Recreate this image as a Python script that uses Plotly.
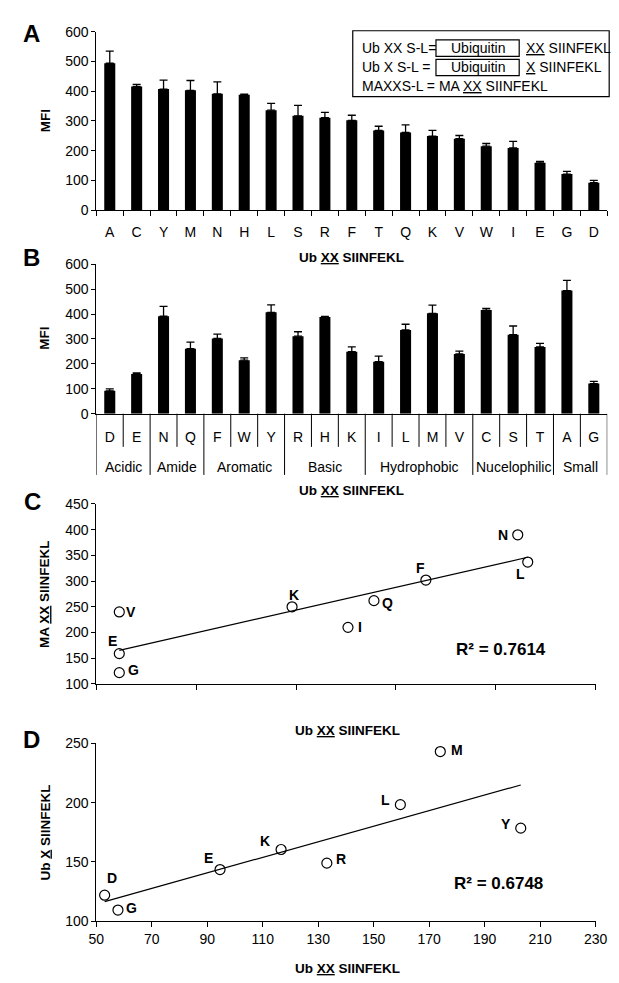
import numpy as np
import plotly.graph_objects as go

# ---------------- data ----------------
# Panel A (sorted by MFI)
a_letters = ["A", "C", "Y", "M", "N", "H", "L", "S", "R", "F", "T", "Q", "K", "V", "W", "I", "E", "G", "D"]
a_mfi = [494, 416, 407, 403, 391, 388, 336, 317, 311, 302, 268, 261, 249, 240, 215, 209, 159, 121, 92]
a_err = [41, 7, 30, 33, 40, 2, 23, 35, 18, 17, 14, 26, 19, 11, 9, 22, 5, 9, 8]

# Panel B (grouped)
groups = ["Acidic", "Amide", "Aromatic", "Basic", "Hydrophobic", "Nucelophilic", "Small"]
group_members = [["D", "E"], ["N", "Q"], ["F", "W", "Y"], ["R", "H", "K"],
                 ["I", "L", "M", "V"], ["C", "S", "T"], ["A", "G"]]

# Panel C: Ub XX (x, hidden scale) vs MA XX SIINFEKL (y)
c_labels = ["V", "E", "G", "K", "I", "Q", "F", "N", "L"]
c_x = [11.5, 11.5, 11.5, 98, 126, 139, 165, 211, 216]
c_y = [240, 159, 122, 250, 210, 262, 302, 390, 337]
c_r2 = "R² = 0.7614"

# Panel D: Ub XX (x) vs Ub X SIINFEKL (y)
d_labels = ["D", "G", "E", "K", "R", "L", "M", "Y"]
d_x = [53, 57.8, 94.6, 116.6, 133.1, 159.6, 174, 203]
d_y = [122, 109.5, 143.6, 160.5, 149, 198.3, 243, 178.5]
d_r2 = "R² = 0.6748"

# label offsets (px) for point labels -- styling only
c_off = {"V": (12, 0), "E": (-7, 13), "G": (14, 3), "K": (2, 12), "I": (12, 0),
         "Q": (14, -2), "F": (-5, 12), "N": (-15, 0), "L": (-7, -12)}
d_off = {"D": (7, 17), "G": (14, 2), "E": (-12, 12), "K": (-16, 9), "R": (14, 4),
         "L": (-15, 5), "M": (17, 2), "Y": (-15, 4)}

# ---------------- layout helpers ----------------
W, H = 619, 983
FONT = "Arial, Liberation Sans, sans-serif"


def px(p):
    return p / W


def py(p):
    return 1 - p / H


fig = go.Figure()

# Panel A bars
xa = list(range(len(a_letters)))
fig.add_trace(go.Bar(x=xa, y=a_mfi, marker=dict(color="black", line=dict(width=0)),
                     error_y=dict(type="data", array=a_err, arrayminus=[0] * len(a_err),
                                  symmetric=False, color="black", thickness=1.3, width=4),
                     xaxis="x", yaxis="y", showlegend=False))

# Panel B bars
lookup = {l: (v, e) for l, v, e in zip(a_letters, a_mfi, a_err)}
b_letters = [l for g in group_members for l in g]
b_mfi = [lookup[l][0] for l in b_letters]
b_err = [lookup[l][1] for l in b_letters]
xb = list(range(len(b_letters)))
fig.add_trace(go.Bar(x=xb, y=b_mfi, marker=dict(color="black", line=dict(width=0)),
                     error_y=dict(type="data", array=b_err, arrayminus=[0] * len(b_err),
                                  symmetric=False, color="black", thickness=1.3, width=4),
                     xaxis="x2", yaxis="y2", showlegend=False))

# Panel C scatter + trend
cf = np.polyfit(c_x, c_y, 1)
cxl = np.array([min(c_x), max(c_x)])
fig.add_trace(go.Scatter(x=cxl, y=np.polyval(cf, cxl), mode="lines",
                         line=dict(color="black", width=1.2), xaxis="x3", yaxis="y3", showlegend=False))
fig.add_trace(go.Scatter(x=c_x, y=c_y, mode="markers",
                         marker=dict(symbol="circle-open", size=10, color="black", line=dict(width=1.2)),
                         xaxis="x3", yaxis="y3", showlegend=False))

# Panel D scatter + trend
df = np.polyfit(d_x, d_y, 1)
dxl = np.array([min(d_x), max(d_x)])
fig.add_trace(go.Scatter(x=dxl, y=np.polyval(df, dxl), mode="lines",
                         line=dict(color="black", width=1.2), xaxis="x4", yaxis="y4", showlegend=False))
fig.add_trace(go.Scatter(x=d_x, y=d_y, mode="markers",
                         marker=dict(symbol="circle-open", size=10, color="black", line=dict(width=1.2)),
                         xaxis="x4", yaxis="y4", showlegend=False))

tickfont = dict(family=FONT, size=14, color="black")
yax_common = dict(showgrid=False, zeroline=False, showline=True, linecolor="black", linewidth=1,
                  ticks="outside", ticklen=4, tickcolor="black", tickfont=tickfont)

layout = dict(
    width=W, height=H, margin=dict(l=0, r=0, t=0, b=0),
    paper_bgcolor="white", plot_bgcolor="white", bargap=0.59,
    font=dict(family=FONT, color="black"),
    xaxis=dict(domain=[px(83), px(611)], range=[-0.5, len(a_letters) - 0.5],
               tickvals=xa, ticktext=a_letters, ticks="outside", ticklen=9,
               tickcolor="rgba(0,0,0,0)", tickfont=tickfont,
               minor=dict(tick0=-0.5, dtick=1, ticks="outside", ticklen=5, tickcolor="black"),
               showline=True, linecolor="black", showgrid=False, zeroline=False, anchor="y"),
    yaxis=dict(domain=[py(197.3), py(16)], range=[0, 600], dtick=100, anchor="x", **yax_common),
    xaxis2=dict(domain=[px(83), px(611)], range=[-0.5, len(b_letters) - 0.5],
                tickvals=xb, ticktext=b_letters, ticks="outside", ticklen=10,
                tickcolor="rgba(0,0,0,0)", tickfont=tickfont,
                showline=True, linecolor="black", showgrid=False, zeroline=False, anchor="y2"),
    yaxis2=dict(domain=[py(404.3), py(252.3)], range=[0, 600], dtick=100, anchor="x2", **yax_common),
    xaxis3=dict(domain=[px(83), px(599)], range=[0, 250], dtick=50, showticklabels=False,
                ticks="outside", ticklen=5, tickcolor="black",
                showline=True, linecolor="black", showgrid=False, zeroline=False, anchor="y3"),
    yaxis3=dict(domain=[py(679), py(496)], range=[100, 450], dtick=50, anchor="x3", **yax_common),
    xaxis4=dict(domain=[px(83), px(599)], range=[50, 230], tick0=50, dtick=20,
                ticks="outside", ticklen=5, tickcolor="black", tickfont=tickfont,
                showline=True, linecolor="black", showgrid=False, zeroline=False, anchor="y4"),
    yaxis4=dict(domain=[py(920.3), py(739.3)], range=[100, 250], dtick=50, anchor="x4", **yax_common),
)
fig.update_layout(**layout)

shapes = []
annotations = []

# Panel B table lines
pos = -0.5
for g, mem in zip(groups, group_members):
    shapes.append(dict(type="line", xref="x2", yref="paper", x0=pos, x1=pos,
                       y0=py(404.3), y1=py(466.5), line=dict(color="black", width=1)))
    for k in range(1, len(mem)):
        xx = pos + k
        shapes.append(dict(type="line", xref="x2", yref="paper", x0=xx, x1=xx,
                           y0=py(404.3), y1=py(438), line=dict(color="black", width=1)))
    annotations.append(dict(text=g, xref="x2", yref="paper", x=pos + len(mem) / 2, y=py(458),
                            showarrow=False, font=dict(family=FONT, size=14, color="black")))
    pos += len(mem)
shapes.append(dict(type="line", xref="x2", yref="paper", x0=pos, x1=pos,
                   y0=py(404.3), y1=py(466.5), line=dict(color="black", width=1)))

# Legend box in panel A
shapes.append(dict(type="rect", xref="paper", yref="paper", x0=px(348), x1=px(613),
                   y0=py(82), y1=py(15), line=dict(color="black", width=1.2)))
for yt, yb in [(24.3, 41), (44, 60.7)]:
    shapes.append(dict(type="rect", xref="paper", yref="paper", x0=px(434), x1=px(520),
                       y0=py(yb), y1=py(yt), line=dict(color="black", width=1.2)))

lf = dict(family=FONT, size=14, color="black")


def ann(text, x, y, font, xanchor="center", yanchor="middle", **kw):
    annotations.append(dict(text=text, xref="paper", yref="paper", x=px(x), y=py(y),
                            xanchor=xanchor, yanchor=yanchor, showarrow=False, font=font, **kw))


ann("Ub XX S-L=", 356, 32.7, lf, xanchor="left")
ann("Ubiquitin", 477, 32.7, lf)
ann("<u>XX</u> SIINFEKL", 525, 32.7, lf, xanchor="left")
ann("Ub X S-L =", 356, 52, lf, xanchor="left")
ann("Ubiquitin", 477, 52, lf)
ann("<u>X</u> SIINFEKL", 525, 52, lf, xanchor="left")
ann("MAXXS-L = MA <u>XX</u> SIINFEKL", 356, 71.5, lf, xanchor="left")

# panel letters
big = dict(family=FONT, size=24, color="black")
ann("<b>A</b>", 16, 18, big)
ann("<b>B</b>", 16, 246, big)
ann("<b>C</b>", 17, 494, big)
ann("<b>D</b>", 16, 735, big)

# axis titles
bf = dict(family=FONT, size=13.5, color="black")
ann("<b>MFI</b>", 30, 107, bf, textangle=-90)
ann("<b>MFI</b>", 30, 328, bf, textangle=-90)
ann("<b>MA <u>XX</u> SIINFEKL</b>", 30, 587.5, bf, textangle=-90)
ann("<b>Ub <u>X</u> SIINFEKL</b>", 30, 830, bf, textangle=-90)
ann("<b>Ub <u>XX</u> SIINFEKL</b>", 347, 245, bf)
ann("<b>Ub <u>XX</u> SIINFEKL</b>", 347, 482.7, bf)
ann("<b>Ub <u>XX</u> SIINFEKL</b>", 343, 726.7, bf)
ann("<b>Ub <u>XX</u> SIINFEKL</b>", 343, 968.3, bf)

# R^2
rf = dict(family=FONT, size=17, color="black")
ann("<b>" + c_r2 + "</b>", 501, 644.3, rf)
ann("<b>" + d_r2 + "</b>", 499, 881.7, rf)

# point labels
pf = dict(family=FONT, size=14, color="black")
for lab, x, y in zip(c_labels, c_x, c_y):
    dx, dy = c_off[lab]
    annotations.append(dict(text="<b>%s</b>" % lab, xref="x3", yref="y3", x=x, y=y,
                            xshift=dx, yshift=dy, showarrow=False, font=pf))
for lab, x, y in zip(d_labels, d_x, d_y):
    dx, dy = d_off[lab]
    annotations.append(dict(text="<b>%s</b>" % lab, xref="x4", yref="y4", x=x, y=y,
                            xshift=dx, yshift=dy, showarrow=False, font=pf))

fig.update_layout(shapes=shapes, annotations=annotations)
fig.write_html("out.html")
